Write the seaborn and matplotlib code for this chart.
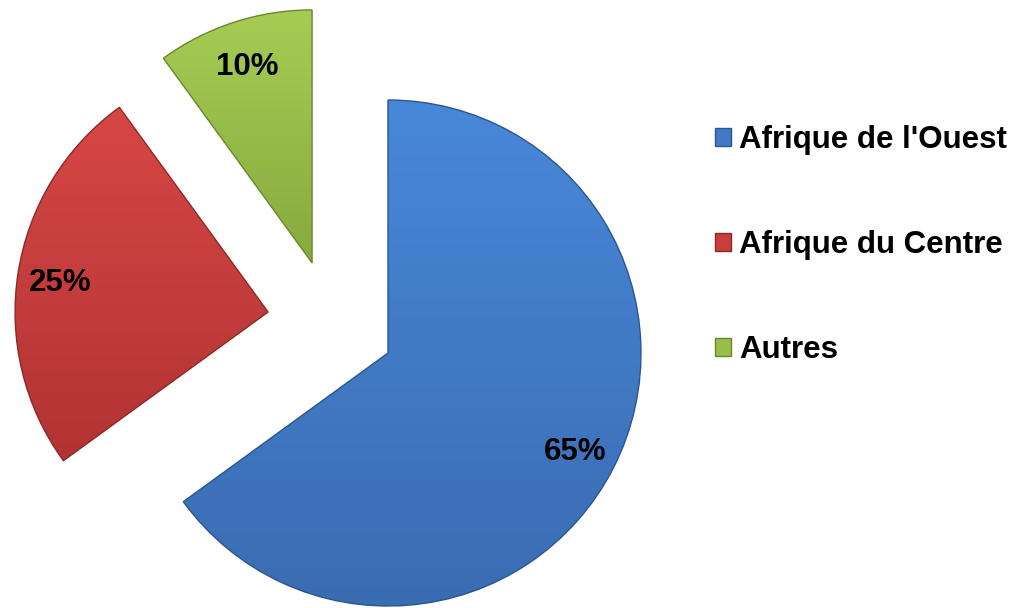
import numpy as np
import matplotlib
matplotlib.use("Agg")
import matplotlib.pyplot as plt
import matplotlib.colors as mcolors
from matplotlib.patches import Patch
import seaborn as sns

# Data
regions = ["Afrique de l'Ouest", "Afrique du Centre", "Autres"]
shares = [65, 25, 10]
pct_labels = ["65%", "25%", "10%"]

# Styling
base_colors = ["#4179C6", "#C83E3D", "#99BE4A"]
top_colors = ["#4888D8", "#D64745", "#A6CC54"]
bottom_colors = ["#3A6CB2", "#B23333", "#88AA3E"]
edge_colors = ["#2C5590", "#8A2A28", "#6A872C"]
# pulled-out slice displacement, in pie radii (x, y)
slice_shift = [(0.0, 0.0), (-0.474, 0.162), (-0.300, 0.356)]

sns.set_theme(style="white")
plt.rcParams["font.family"] = ["Liberation Sans", "DejaVu Sans"]
plt.rcParams["text.color"] = "black"

fig = plt.figure(figsize=(10.2, 6.08), dpi=100)
ax = fig.add_axes([0, 0, 1, 1])

wedges, texts = ax.pie(
    shares,
    labels=pct_labels,
    colors=base_colors,
    startangle=90,
    counterclock=False,
    radius=1.0,
    labeldistance=0.83,
    wedgeprops=dict(linewidth=1.0),
    textprops=dict(fontsize=22.5, fontweight="bold", color="black"),
)

for w, t, (dx, dy), c0, c1, ec in zip(wedges, texts, slice_shift,
                                      top_colors, bottom_colors, edge_colors):
    cx, cy = w.center
    w.set_center((cx + dx, cy + dy))
    x, y = t.get_position()
    t.set_position((x + dx, y + dy))
    t.set_horizontalalignment("center")
    t.set_verticalalignment("center_baseline")
    t.set_zorder(5)

    # vertical shading inside each slice
    ext = w.get_path().get_extents()
    grad = np.linspace(0, 1, 256).reshape(-1, 1)
    cmap = mcolors.LinearSegmentedColormap.from_list("g", [c0, c1])
    im = ax.imshow(grad, cmap=cmap, aspect="auto", origin="upper",
                   extent=(ext.x0, ext.x1, ext.y0, ext.y1), zorder=2,
                   interpolation="bilinear")
    im.set_clip_path(w)
    w.set_edgecolor(ec)
    w.set_facecolor("none")
    w.set_zorder(3)

px = 253.0
ax.set_xlim(-388 / px, (1020 - 388) / px)
ax.set_ylim(-255 / px, 353 / px)
ax.set_aspect("equal")
ax.axis("off")

handles = [Patch(facecolor=c, edgecolor=e, linewidth=1.0)
           for c, e in zip(base_colors, edge_colors)]
leg = fig.legend(handles, regions, loc="center left",
                 bbox_to_anchor=(715 / 1020, 1 - 245 / 608),
                 frameon=False, borderpad=0, borderaxespad=0,
                 handlelength=0.52, handleheight=0.52, handletextpad=0.26,
                 labelspacing=2.4,
                 prop=dict(family="Liberation Sans", weight="bold", size=22.5))
for txt in leg.get_texts():
    txt.set_color("black")

fig.savefig("out.png", dpi=100, facecolor="white")
